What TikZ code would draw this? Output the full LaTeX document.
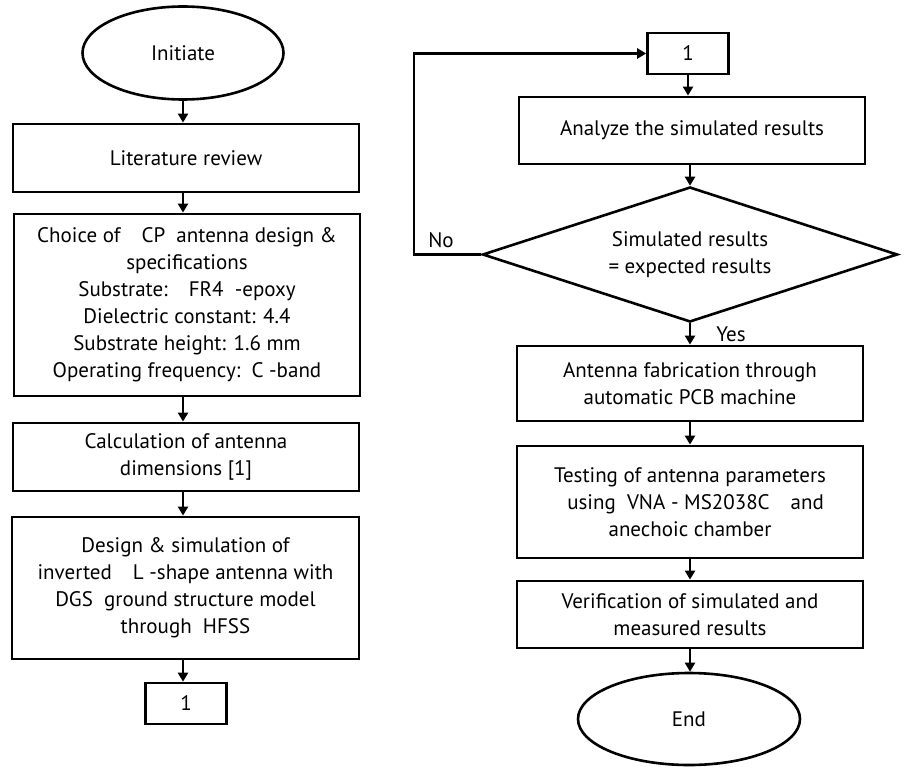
\documentclass[tikz,border=0pt]{standalone}
\usepackage{fontspec}
\setmainfont{PT Sans}
\usetikzlibrary{shapes.geometric,arrows.meta}
\begin{document}
\begin{tikzpicture}[x=1pt,y=-1pt,
  every node/.style={font=\fontsize{21}{27}\selectfont, align=center, inner sep=0pt},
  box/.style={draw, line width=2.8pt, rectangle, minimum width=346pt},
  oval/.style={draw, line width=2.6pt, ellipse},
  dec/.style={draw, line width=2.6pt, diamond, shape aspect=3.07, minimum width=415pt, minimum height=135pt},
  arr/.style={line width=2.6pt, -{Triangle[width=10pt,length=9pt]}}]
\useasboundingbox (0,0) rectangle (904,767);
% left column
\node[oval, minimum width=201pt, minimum height=93pt] (init) at (183,53) {Initiate};
\node[box, minimum height=68pt] (lit) at (186,158) {Literature review};
\node[box, minimum height=182pt] (choice) at (187,305) {Choice of\quad CP\ \ antenna design \&\\specifications\\Substrate:\quad FR4\ \ -epoxy\\Dielectric constant: 4.4\\Substrate height: 1.6 mm\\Operating frequency:\ \ C -band};
\node[box, minimum height=68pt] (calc) at (186,457) {Calculation of antenna\\dimensions [1]};
\node[box, minimum height=142pt, minimum width=347pt] (design) at (185.5,588) {Design \& simulation of\\inverted\quad L -shape antenna with\\DGS\ \ ground\ structure model\\through\ \ HFSS};
\node[box, line width=2.6pt, minimum width=81pt, minimum height=41pt] (c1) at (186,703.5) {1};
% right column
\node[box, line width=2.6pt, minimum width=81pt, minimum height=41pt] (c2) at (688,53.5) {1};
\node[box, minimum height=67pt] (ana) at (692,130.5) {Analyze the simulated results};
\node[dec] (dec) at (690,254.5) {Simulated results\\= expected results};
\node[box, minimum height=75pt] (fab) at (690,383.5) {Antenna fabrication through\\automatic PCB machine};
\node[box, minimum height=112pt] (test) at (690,502) {Testing of antenna parameters\\\ \ using\ \ VNA\ - MS2038C\quad and\\anechoic chamber};
\node[box, minimum height=67pt] (ver) at (690,614.5) {Verification of simulated and\\measured results};
\node[oval, minimum width=222pt, minimum height=92pt] (end) at (689,719) {End};
\coordinate (lp1) at (414,254.5);
\coordinate (lp2) at (414,53.5);
\node (no) at (441,240) {No};
\node (yes) at (731,334) {Yes};
% arrows
\draw[arr] (init.south) -- (init.south |- lit.north);
\draw[arr] (lit.south -| init.south) -- (init.south |- choice.north);
\draw[arr] (choice.south -| init.south) -- (init.south |- calc.north);
\draw[arr] (calc.south -| init.south) -- (init.south |- design.north);
\draw[arr] (design.south -| init.south) -- (init.south |- c1.north);
\draw[arr] (c2.south) -- (c2.south |- ana.north);
\draw[arr] (ana.south -| dec.north) -- (dec.north);
\draw[arr] (dec.south) -- (dec.south |- fab.north);
\draw[arr] (fab.south -| dec.south) -- (dec.south |- test.north);
\draw[arr] (test.south -| dec.south) -- (dec.south |- ver.north);
\draw[arr] (ver.south -| dec.south) -- (dec.south |- end.north);
\draw[arr] (dec.west) -- (lp1) -- (lp2) -- (c2.west);
\end{tikzpicture}
\end{document}
